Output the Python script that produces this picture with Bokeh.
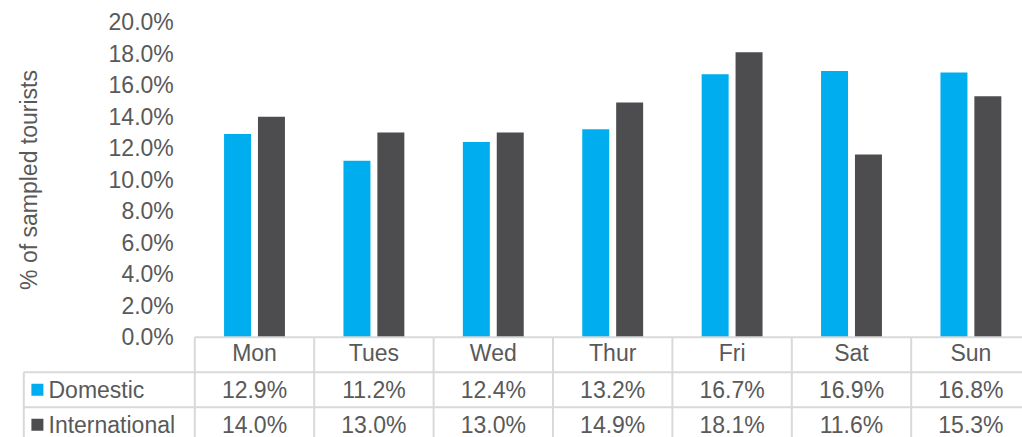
from bokeh.plotting import figure
from bokeh.models import Range1d, FixedTicker, PrintfTickFormatter, CustomJSTickFormatter, ColumnDataSource
from bokeh.transform import dodge
from bokeh.core.properties import value
from bokeh.embed import file_html
from bokeh.resources import INLINE

# ---- data ----
days = ["Mon", "Tues", "Wed", "Thur", "Fri", "Sat", "Sun"]
domestic = [12.9, 11.2, 12.4, 13.2, 16.7, 16.9, 16.8]
international = [14.0, 13.0, 13.0, 14.9, 18.1, 11.6, 15.3]
series_names = ["Domestic", "International"]
y_ticks = [0, 2, 4, 6, 8, 10, 12, 14, 16, 18, 20]
y_title = "% of sampled tourists"

# ---- style / layout ----
BLUE = "#00AEEF"
DARK = "#4D4D4F"
TEXT = "#595959"
GRID = "#D9D9D9"
FONT = "Liberation Sans"
FS = "23px"

W, H = 1022, 437
ORIGIN_X = 194.3      # px of the first category boundary
CELL = 119.4          # px per category column
BASE_Y = 336.7        # px of the 0 % baseline
PX_PER_PCT = 15.75
ROW = 35 / PX_PER_PCT # table row height in % units
LEG_LEFT_PX = 23.3
SQ_PX = 36.9
TXT_PX = 48.0

n = len(days)
n_rows = len(series_names)
centers = [i + 0.5 for i in range(n)]
x_start = -ORIGIN_X / CELL
x_end = (W - ORIGIN_X) / CELL
y_start = -(H - BASE_Y) / PX_PER_PCT
y_end = BASE_Y / PX_PER_PCT

p = figure(width=W, height=H, output_backend="svg", toolbar_location=None,
           x_range=Range1d(x_start, x_end), y_range=Range1d(y_start, y_end),
           min_border=0)
p.outline_line_color = None
p.grid.visible = False
p.background_fill_color = "white"
p.border_fill_color = "white"

src = ColumnDataSource(dict(x=centers, dom=domestic, intl=international))
p.vbar(x=dodge("x", -0.142), top="dom", bottom=0, width=0.226, source=src,
       fill_color=BLUE, line_color=None)
p.vbar(x=dodge("x", 0.142), top="intl", bottom=0, width=0.226, source=src,
       fill_color=DARK, line_color=None)

# ---- axes, fixed inside the frame ----
xa = p.xaxis[0]
xa.fixed_location = 0
xa.ticker = FixedTicker(ticks=centers, minor_ticks=[])
xa.formatter = CustomJSTickFormatter(args=dict(labels=days),
                                     code="const i = Math.floor(tick); return labels[i] || '';")
xa.axis_line_color = None
xa.major_tick_line_color = None
xa.minor_tick_line_color = None
xa.major_tick_out = 0
xa.major_tick_in = 0
xa.major_label_text_font = FONT
xa.major_label_text_font_size = FS
xa.major_label_text_color = TEXT
xa.major_label_standoff = 3

ya = p.yaxis[0]
ya.fixed_location = 0
ya.bounds = (0, 20)
ya.ticker = FixedTicker(ticks=y_ticks, minor_ticks=[])
ya.formatter = PrintfTickFormatter(format="%.1f%%")
ya.axis_line_color = None
ya.major_tick_line_color = None
ya.minor_tick_line_color = None
ya.major_tick_out = 0
ya.major_tick_in = 0
ya.major_label_standoff = 21
ya.major_label_text_font = FONT
ya.major_label_text_font_size = FS
ya.major_label_text_color = TEXT
ya.axis_label = y_title
ya.axis_label_text_font = FONT
ya.axis_label_text_font_size = FS
ya.axis_label_text_font_style = "normal"
ya.axis_label_text_color = TEXT
ya.axis_label_standoff = 63

# ---- data table ----
x_leg = (LEG_LEFT_PX - ORIGIN_X) / CELL
y_bottom = y_start - 1
# baseline / table top
p.segment(x0=[0], x1=[x_end + 1], y0=[0], y1=[0], line_color=GRID, line_width=2)
# row rules
row_lines = [-(r + 1) * ROW for r in range(n_rows)]
p.segment(x0=[x_leg] * n_rows, x1=[x_end + 1] * n_rows, y0=row_lines, y1=row_lines,
          line_color=GRID, line_width=2)
# column rules
p.segment(x0=list(range(n + 1)), x1=list(range(n + 1)),
          y0=[0] * (n + 1), y1=[y_bottom] * (n + 1), line_color=GRID, line_width=2)
p.segment(x0=[x_leg], x1=[x_leg], y0=[-ROW], y1=[y_bottom], line_color=GRID, line_width=2)

row_centers = [-(r + 1.5) * ROW for r in range(n_rows)]
for r, vals in enumerate([domestic, international]):
    p.text(x=centers, y=[row_centers[r]] * n, text=[f"{v:.1f}%" for v in vals],
           text_align="center", text_baseline="middle",
           text_font=value(FONT), text_font_size=FS, text_color=TEXT)

p.scatter(x=[(SQ_PX - ORIGIN_X) / CELL] * n_rows, y=row_centers,
          marker="square", size=12, color=[BLUE, DARK], line_color=None)
p.text(x=[(TXT_PX - ORIGIN_X) / CELL] * n_rows, y=row_centers,
       text=series_names, text_align="left", text_baseline="middle",
       text_font=value(FONT), text_font_size=FS, text_color=TEXT)

open("out.html", "w").write(file_html(p, INLINE))
